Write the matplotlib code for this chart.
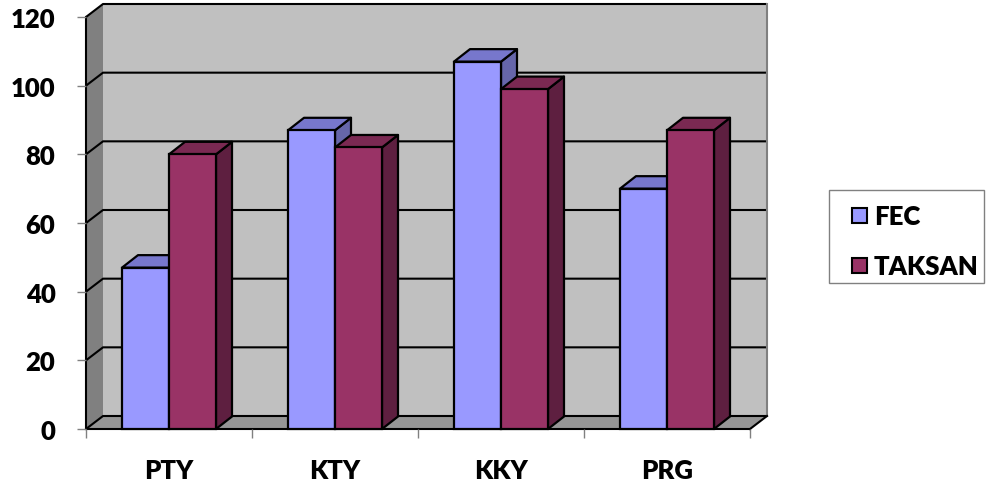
import matplotlib
matplotlib.use("Agg")
import matplotlib.pyplot as plt
from matplotlib.patches import Polygon, Rectangle
from matplotlib.transforms import Affine2D

# ---- data ----
categories = ["PTY", "KTY", "KKY", "PRG"]
series_names = ["FEC", "TAKSAN"]
fec = [47, 87, 107, 70]
taksan = [80, 82, 99, 87]
y_ticks = [0, 20, 40, 60, 80, 100, 120]

# ---- style ----
front_colors = ["#9999FF", "#993366"]
top_colors = ["#7777CC", "#7A2952"]
side_colors = ["#6666AA", "#5E1F40"]
wall_back = "#C0C0C0"
wall_side = "#808080"
floor_col = "#969696"
font = "Lato"
fweight = "heavy"
fsize = 18.5

W, H = 986, 489
fig = plt.figure(figsize=(W / 100, H / 100), dpi=100)
ax = fig.add_axes([86 / W, 1 - 430 / H, 664 / W, 412 / H])
ncat = len(categories)
ymax = y_ticks[-1]
ax.set_xlim(0, ncat)
ax.set_ylim(0, ymax)
ax.patch.set_visible(False)

# pixel sizes converted to data units
px_x = ncat / 664.0
px_y = ymax / 412.0
wdx, wdy = 17 * px_x, 13 * px_y      # wall depth
bdx, bdy = 16 * px_x, 12.5 * px_y    # bar depth
bw = 47 * px_x                       # bar width

lw_edge = 1.6

# walls and floor
ax.add_patch(Polygon([(wdx, wdy), (ncat + wdx, wdy), (ncat + wdx, ymax + wdy), (wdx, ymax + wdy)],
                     closed=True, fc=wall_back, ec="none", zorder=0, clip_on=False))
ax.add_patch(Polygon([(0, 0), (wdx, wdy), (wdx, ymax + wdy), (0, ymax)],
                     closed=True, fc=wall_side, ec="none", zorder=0, clip_on=False))
ax.add_patch(Polygon([(0, 0), (ncat, 0), (ncat + wdx, wdy), (wdx, wdy)],
                     closed=True, fc=floor_col, ec="none", zorder=0.5, clip_on=False))
for v in y_ticks:
    ax.plot([0, wdx, ncat + wdx], [v, v + wdy, v + wdy], color="black", lw=1.5,
            zorder=1, clip_on=False, solid_capstyle="butt")
ax.plot([ncat + wdx, ncat + wdx], [wdy, ymax + wdy], color="#808080", lw=1.5,
        zorder=1, clip_on=False)
ax.plot([ncat, ncat + wdx], [0, wdy], color="black", lw=1.5, zorder=1, clip_on=False)

# 3D-looking bars
z = 2
for i in range(ncat):
    for j, vals in enumerate([fec, taksan]):
        v = vals[i]
        x0 = i + 0.5 - bw + j * bw
        ax.add_patch(Polygon([(x0 + bw, 0), (x0 + bw + bdx, bdy), (x0 + bw + bdx, v + bdy), (x0 + bw, v)],
                             closed=True, fc=side_colors[j], ec="black", lw=lw_edge,
                             joinstyle="round", zorder=z, clip_on=False))
        ax.add_patch(Polygon([(x0, v), (x0 + bdx, v + bdy), (x0 + bw + bdx, v + bdy), (x0 + bw, v)],
                             closed=True, fc=top_colors[j], ec="black", lw=lw_edge,
                             joinstyle="round", zorder=z, clip_on=False))
        ax.bar(x0, v, width=bw, align="edge", color=front_colors[j], edgecolor="black",
               linewidth=lw_edge, zorder=z + 0.5, clip_on=False)
        z += 1

# axes, ticks, labels
for s in ["top", "right"]:
    ax.spines[s].set_visible(False)
for s in ["left", "bottom"]:
    ax.spines[s].set_color("black")
    ax.spines[s].set_linewidth(1.5)
    ax.spines[s].set_zorder(1.5)

ax.set_yticks(y_ticks)
ax.set_yticklabels([str(t) for t in y_ticks])
ax.set_xticks(range(ncat + 1))
ax.set_xticklabels([])
ax.set_xticks([i + 0.5 for i in range(ncat)], minor=True)
ax.set_xticklabels(categories, minor=True)
ax.tick_params(axis="both", which="major", direction="out", length=6.5, width=1, color="#808080")
ax.tick_params(axis="y", pad=15.5)
ax.tick_params(axis="x", which="minor", length=0, pad=21)
for lab in ax.get_yticklabels() + ax.get_xticklabels(minor=True):
    lab.set_fontfamily(font)
    lab.set_fontweight(fweight)
    lab.set_fontsize(fsize)
    lab.set_color("black")

# legend box, in pixel coordinates from the top-left corner
pix = Affine2D().scale(1 / W, -1 / H).translate(0, 1) + fig.transFigure
fig.patches.append(Rectangle((829, 191), 155, 93, transform=pix, fc="white",
                             ec="#808080", lw=1))
for j, name in enumerate(series_names):
    cy = 216.5 + j * 50
    fig.patches.append(Rectangle((852, cy - 7.5), 15, 15, transform=pix,
                                 fc=front_colors[j], ec="black", lw=1.5))
    fig.text(874, cy + 8.5, name, transform=pix, ha="left", va="baseline",
             fontfamily=font, fontweight=fweight, fontsize=fsize, color="black")

fig.savefig("out.png", dpi=100)
